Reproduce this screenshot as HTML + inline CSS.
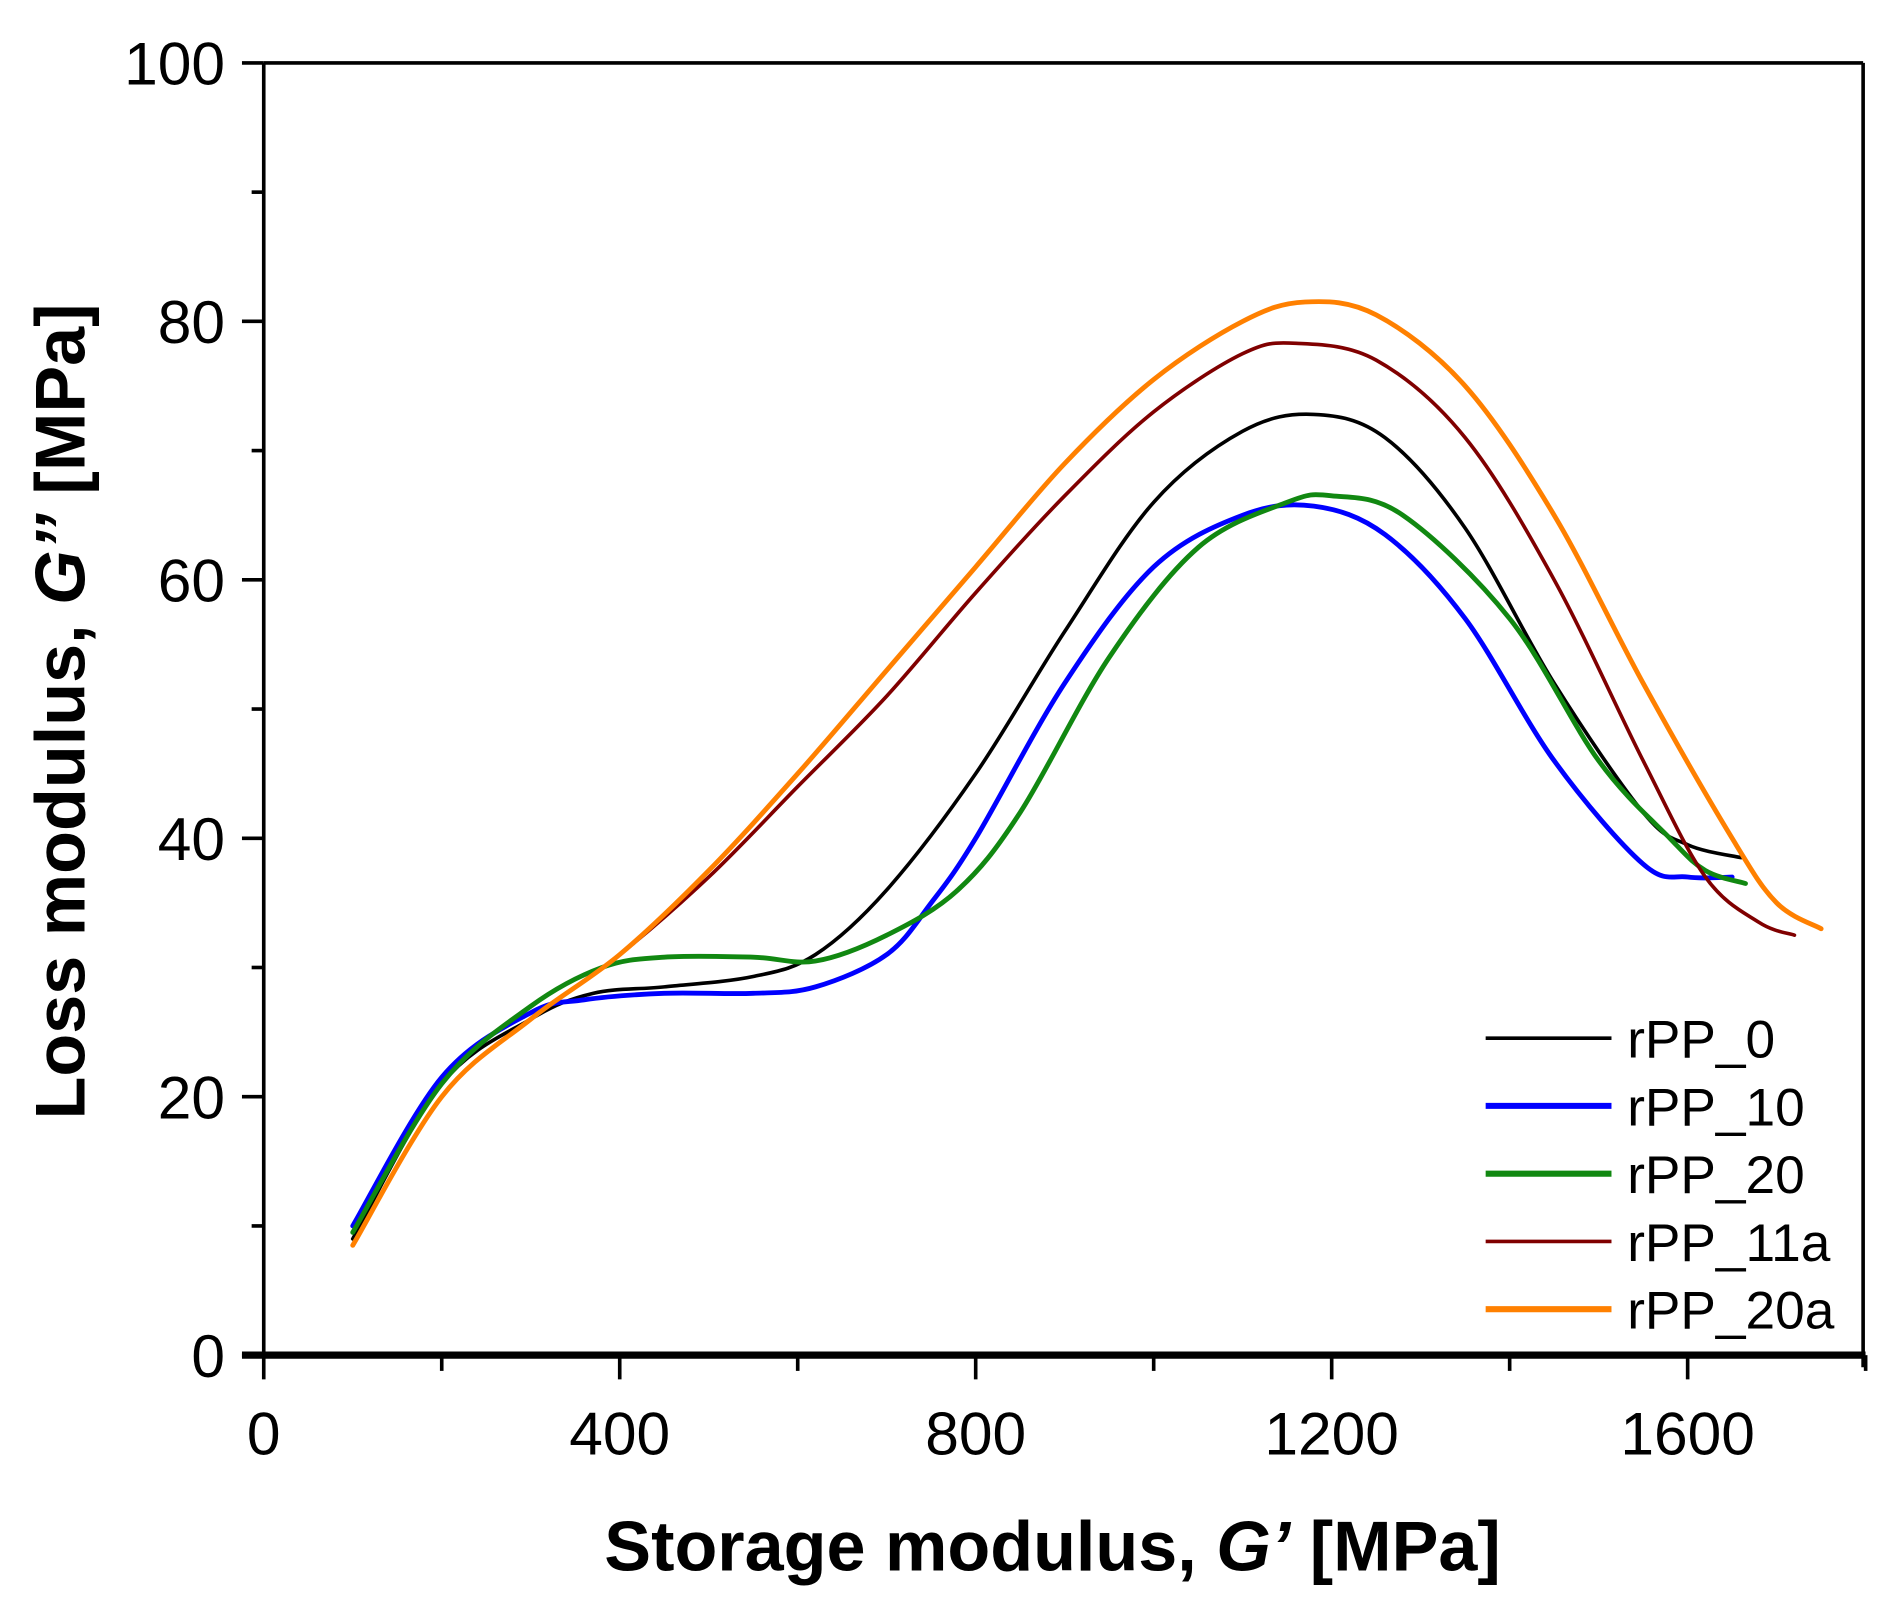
<!DOCTYPE html>
<html><head><meta charset="utf-8"><style>
html,body{margin:0;padding:0;background:#fff;}
svg{display:block;}
text{font-family:"Liberation Sans",sans-serif;}
</style></head><body>
<svg id="s" width="1897" height="1602" viewBox="0 0 1568 1324" preserveAspectRatio="none" xmlns="http://www.w3.org/2000/svg">
<rect width="1568" height="1324" fill="#fff"/>
<g id="curves" fill="none" stroke-linejoin="round" stroke-linecap="round"></g>
<line x1="218" y1="52" x2="1540" y2="52" stroke="#000" stroke-width="3"/>
<line x1="1540" y1="52" x2="1540" y2="1130" stroke="#000" stroke-width="3"/>
<line x1="218" y1="52" x2="218" y2="1120" stroke="#000" stroke-width="3"/>
<line x1="200" y1="1120" x2="1542" y2="1120" stroke="#000" stroke-width="6"/>
<g id="ticks" stroke="#000" stroke-width="3"></g>
<g font-size="50" fill="#000" text-anchor="end" id="ylab"></g>
<g font-size="50" fill="#000" text-anchor="middle" id="xlab"></g>
<text x="870" y="1298" font-size="58" font-weight="bold" text-anchor="middle">Storage modulus, <tspan font-style="italic">G’</tspan> [MPa]</text>
<text transform="translate(70,588) rotate(-90)" font-size="58" font-weight="bold" text-anchor="middle">Loss modulus, <tspan font-style="italic">G’’</tspan> [MPa]</text>
<g id="legend" font-size="44"></g>
</svg>
<script>
const X=x=>218+0.7356*x, Y=y=>1120-10.68*y;
const ns="http://www.w3.org/2000/svg";
function el(t,a,p,txt){const e=document.createElementNS(ns,t);for(const k in a)e.setAttribute(k,a[k]);if(txt!=null)e.textContent=txt;document.getElementById(p).appendChild(e);return e;}
function path(pts){pts=pts.map(p=>[X(p[0]),Y(p[1])]);let d="M"+pts[0];for(let i=0;i<pts.length-1;i++){const p0=pts[i-1]||pts[i],p1=pts[i],p2=pts[i+1],p3=pts[i+2]||p2;const c1=[p1[0]+(p2[0]-p0[0])/6,p1[1]+(p2[1]-p0[1])/6],c2=[p2[0]-(p3[0]-p1[0])/6,p2[1]-(p3[1]-p1[1])/6];d+="C"+c1+" "+c2+" "+p2;}return d;}
const S=[
["#000",3,[[100,9],[200,21],[300,26],[370,28],[450,28.5],[550,29.3],[620,31],[700,36],[800,45],[900,56],[1000,66],[1100,71.5],[1180,72.8],[1260,71],[1350,64],[1450,52],[1550,42],[1600,39.5],[1660,38.5]]],
["#0000ff",4,[[100,10],[200,21.5],[300,26.5],[360,27.5],[450,28],[550,28],[620,28.5],[700,31],[750,35],[800,40],[900,52],[1000,61],[1100,65],[1180,65.7],[1260,63.5],[1350,57],[1450,46],[1550,38],[1600,37],[1650,37]]],
["#118811",4,[[100,9.5],[200,21],[300,27],[380,30],[450,30.8],[550,30.8],[620,30.5],[700,32.5],[780,36],[850,42],[950,54],[1050,62.5],[1150,66],[1200,66.5],[1280,65],[1400,57],[1500,46],[1580,40],[1620,37.5],[1665,36.5]]],
["#800000",3,[[100,8.5],[200,20],[300,26],[400,31],[500,37],[600,44],[700,51],[800,59],[900,66.5],[1000,73],[1100,77.5],[1160,78.3],[1250,77],[1350,71],[1450,60],[1550,46],[1620,37],[1680,33.5],[1720,32.5]]],
["#ff8000",4,[[100,8.5],[200,20],[300,26],[400,31],[500,37.5],[600,45],[700,53],[800,61],[900,69],[1000,75.5],[1100,80],[1170,81.5],[1250,80.5],[1350,75],[1450,65],[1550,52],[1650,40],[1700,35],[1750,33]]]];
S.forEach(s=>el("path",{d:path(s[2]),stroke:s[0],"stroke-width":s[1]},"curves"));
for(let v=0;v<=1800;v+=200){const x=X(v);el("line",{x1:x,y1:1120,x2:x,y2:v%400==0?1140:1133},"ticks");if(v%400==0)el("text",{x:x,y:1202},"xlab",v);}
for(let v=0;v<=100;v+=10){const y=Y(v);el("line",{x1:218,y1:y,x2:v%20==0?200:208,y2:y},"ticks");if(v%20==0)el("text",{x:186,y:y+18},"ylab",v);}
const L=[["rPP_0","#000",3],["rPP_10","#0000ff",5],["rPP_20","#118811",5],["rPP_11a","#800000",3],["rPP_20a","#ff8000",5]];
L.forEach((l,i)=>{const y=858+i*56;el("line",{x1:1228,y1:y,x2:1332,y2:y,stroke:l[1],"stroke-width":l[2]},"legend");el("text",{x:1345,y:y+16},"legend",l[0]);});
</script>
</body></html>
